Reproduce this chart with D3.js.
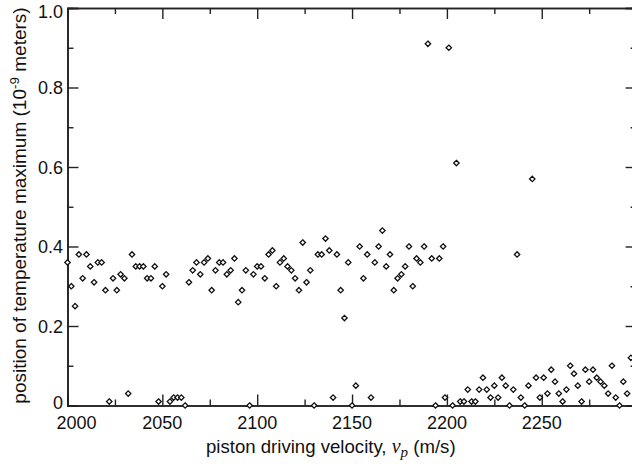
<!DOCTYPE html>
<html>
<head>
<meta charset="utf-8">
<script src="https://cdn.jsdelivr.net/npm/d3@7"></script>
<style>
  body { margin: 0; background: #fff; }
  svg { display: block; }
  text { font-family: "Liberation Sans", Arial, sans-serif; fill: #111; }
</style>
</head>
<body>
<div id="main"></div>
<script>
// velocities (m/s) and positions of the temperature maximum (1e-9 m)
const velocity = [
  2000, 2002, 2004, 2006, 2008, 2010, 2012, 2014, 2016, 2018, 2020, 2024, 2026, 2028, 2030,
  2034, 2036, 2038, 2040, 2042, 2044, 2046, 2050, 2052, 2064, 2066, 2068, 2070, 2072, 2074,
  2076, 2078, 2080, 2082, 2084, 2086, 2088, 2090, 2092, 2094, 2098, 2100,
  2022, 2032, 2048, 2054, 2056, 2058, 2060, 2062, 2096,
  2102, 2104, 2106, 2108, 2110, 2112, 2114, 2116, 2118, 2120, 2122, 2124, 2126, 2128, 2132,
  2134, 2136, 2138, 2142, 2144, 2146, 2148, 2154, 2156, 2158, 2162, 2164, 2166, 2168, 2170,
  2172, 2174, 2176, 2178, 2180, 2182, 2184, 2186, 2188, 2190, 2192, 2196, 2198, 2201, 2205,
  2130, 2140, 2150, 2152, 2160, 2194, 2199,
  2203, 2207, 2209, 2211, 2213, 2215, 2217, 2219, 2221, 2223, 2225, 2227, 2229, 2231, 2233,
  2235, 2237, 2239, 2241, 2243, 2245, 2247, 2249, 2251, 2253, 2255, 2257, 2259, 2261, 2263,
  2265, 2267, 2269, 2271, 2273, 2275, 2277, 2279, 2281, 2283, 2285, 2287, 2289, 2291, 2293,
  2295, 2297
];
const position = [
  0.36, 0.30, 0.25, 0.38, 0.32, 0.38, 0.35, 0.31, 0.36, 0.36, 0.29, 0.32, 0.29, 0.33, 0.32,
  0.38, 0.35, 0.35, 0.35, 0.32, 0.32, 0.35, 0.30, 0.33, 0.31, 0.34, 0.36, 0.33, 0.36, 0.37,
  0.29, 0.34, 0.36, 0.36, 0.33, 0.34, 0.37, 0.26, 0.29, 0.34, 0.33, 0.35,
  0.01, 0.03, 0.01, 0.01, 0.02, 0.02, 0.02, 0.00, 0.00,
  0.35, 0.32, 0.38, 0.39, 0.30, 0.36, 0.37, 0.35, 0.34, 0.32, 0.29, 0.41, 0.31, 0.34, 0.38,
  0.38, 0.42, 0.39, 0.38, 0.29, 0.22, 0.36, 0.40, 0.32, 0.38, 0.36, 0.40, 0.44, 0.35, 0.38,
  0.29, 0.32, 0.33, 0.35, 0.40, 0.30, 0.37, 0.36, 0.40, 0.91, 0.37, 0.37, 0.40, 0.90, 0.61,
  0.00, 0.02, 0.00, 0.05, 0.02, 0.00, 0.02,
  0.00, 0.01, 0.01, 0.04, 0.01, 0.01, 0.04, 0.07, 0.04, 0.02, 0.05, 0.02, 0.07, 0.05, 0.00,
  0.04, 0.38, 0.02, 0.00, 0.05, 0.57, 0.07, 0.02, 0.07, 0.03, 0.09, 0.06, 0.03, 0.01, 0.04,
  0.10, 0.08, 0.05, 0.01, 0.09, 0.06, 0.09, 0.07, 0.06, 0.05, 0.03, 0.10, 0.02, 0.00, 0.06,
  0.03, 0.12
];
const xMajor = [2000, 2050, 2100, 2150, 2200, 2250, 2300];
const xMinor = [2025, 2075, 2125, 2175, 2225, 2275];
const yMajor = [0, 0.2, 0.4, 0.6, 0.8, 1.0];
const yMinor = [0.1, 0.3, 0.5, 0.7, 0.9];
const yLabels = ['0', '0.2', '0.4', '0.6', '0.8', '1.0'];

const W = 632, H = 464;
const X0 = 67.5, X1 = 636.6, Y0 = 405.5, Y1 = 8;
const MAJ = 11, MIN = 6;

const svg = d3.select('#main').append('svg').attr('width', W).attr('height', H);

const x = d3.scaleLinear().domain([2000, 2300]).range([X0, X1]);
const y = d3.scaleLinear().domain([0, 1]).range([Y0, Y1]);

// frame axes, ticks inward on all sides
const frame = svg.append('g').attr('stroke', '#222').attr('stroke-width', 1.5);
frame.append('g').attr('transform', `translate(0,${Y0})`)
  .call(d3.axisBottom(x).tickValues(xMajor).tickSize(-MAJ).tickFormat(''));
frame.append('g').attr('transform', `translate(0,${Y0})`)
  .call(d3.axisBottom(x).tickValues(xMinor).tickSize(-MIN).tickFormat(''));
frame.append('g').attr('transform', `translate(0,${Y1})`)
  .call(d3.axisTop(x).tickValues(xMajor).tickSize(-MAJ).tickFormat(''));
frame.append('g').attr('transform', `translate(0,${Y1})`)
  .call(d3.axisTop(x).tickValues(xMinor).tickSize(-MIN).tickFormat(''));
frame.append('g').attr('transform', `translate(${X0},0)`)
  .call(d3.axisLeft(y).tickValues(yMajor).tickSize(-MAJ).tickFormat(''));
frame.append('g').attr('transform', `translate(${X0},0)`)
  .call(d3.axisLeft(y).tickValues(yMinor).tickSize(-MIN).tickFormat(''));
frame.append('g').attr('transform', `translate(${X1},0)`)
  .call(d3.axisRight(y).tickValues(yMajor).tickSize(-MAJ).tickFormat(''));
frame.append('g').attr('transform', `translate(${X1},0)`)
  .call(d3.axisRight(y).tickValues(yMinor).tickSize(-MIN).tickFormat(''));
frame.selectAll('.domain').attr('stroke', '#222').attr('stroke-width', 1.6);
frame.selectAll('.tick line').attr('stroke', '#222').attr('stroke-width', 1.4);

// tick labels
svg.append('g').selectAll('text').data(xMajor.slice(0, 6)).enter().append('text')
  .attr('x', (d, i) => x(d) + (i === 0 ? 9 : 0))
  .attr('y', 428.5)
  .attr('text-anchor', 'middle')
  .style('font-size', '18px')
  .text((d) => d);

// end labels are nudged inward, as in the original
svg.append('g').selectAll('text').data(yMajor).enter().append('text')
  .attr('x', 63)
  .attr('y', (d, i) => y(d) + 6.5 + (i === 0 ? -3.5 : i === 5 ? 3 : 0))
  .attr('text-anchor', 'end')
  .style('font-size', '18px')
  .text((d, i) => yLabels[i]);

// axis titles
const xt = svg.append('text').attr('x', 206).attr('y', 453).style('font-size', '18.6px');
xt.append('tspan').text('piston driving velocity, ');
xt.append('tspan').style('font-family', '"Liberation Serif", "Times New Roman", serif')
  .style('font-style', 'italic').style('font-size', '20px').text('v');
xt.append('tspan').style('font-family', '"Liberation Serif", "Times New Roman", serif')
  .style('font-style', 'italic').style('font-size', '15px').attr('dy', 4).text('p');
xt.append('tspan').attr('dy', -4).text(' (m/s)');

const yt = svg.append('text')
  .attr('transform', 'translate(26,205.5) rotate(-90)')
  .attr('text-anchor', 'middle')
  .style('font-size', '19px');
yt.append('tspan').text('position of temperature maximum (10');
yt.append('tspan').attr('dy', -7).style('font-size', '13.5px').text('-9');
yt.append('tspan').attr('dy', 7).text(' meters)');

// points
const r = 2.7;
const diamond = `M0,${-r}L${r},0L0,${r}L${-r},0Z`;
svg.append('g').selectAll('path').data(velocity).enter().append('path')
  .attr('d', diamond)
  .attr('transform', (d, i) => `translate(${x(d)},${y(position[i])})`)
  .attr('fill', '#fff')
  .attr('stroke', '#111')
  .attr('stroke-width', 1.3);
</script>
</body>
</html>
